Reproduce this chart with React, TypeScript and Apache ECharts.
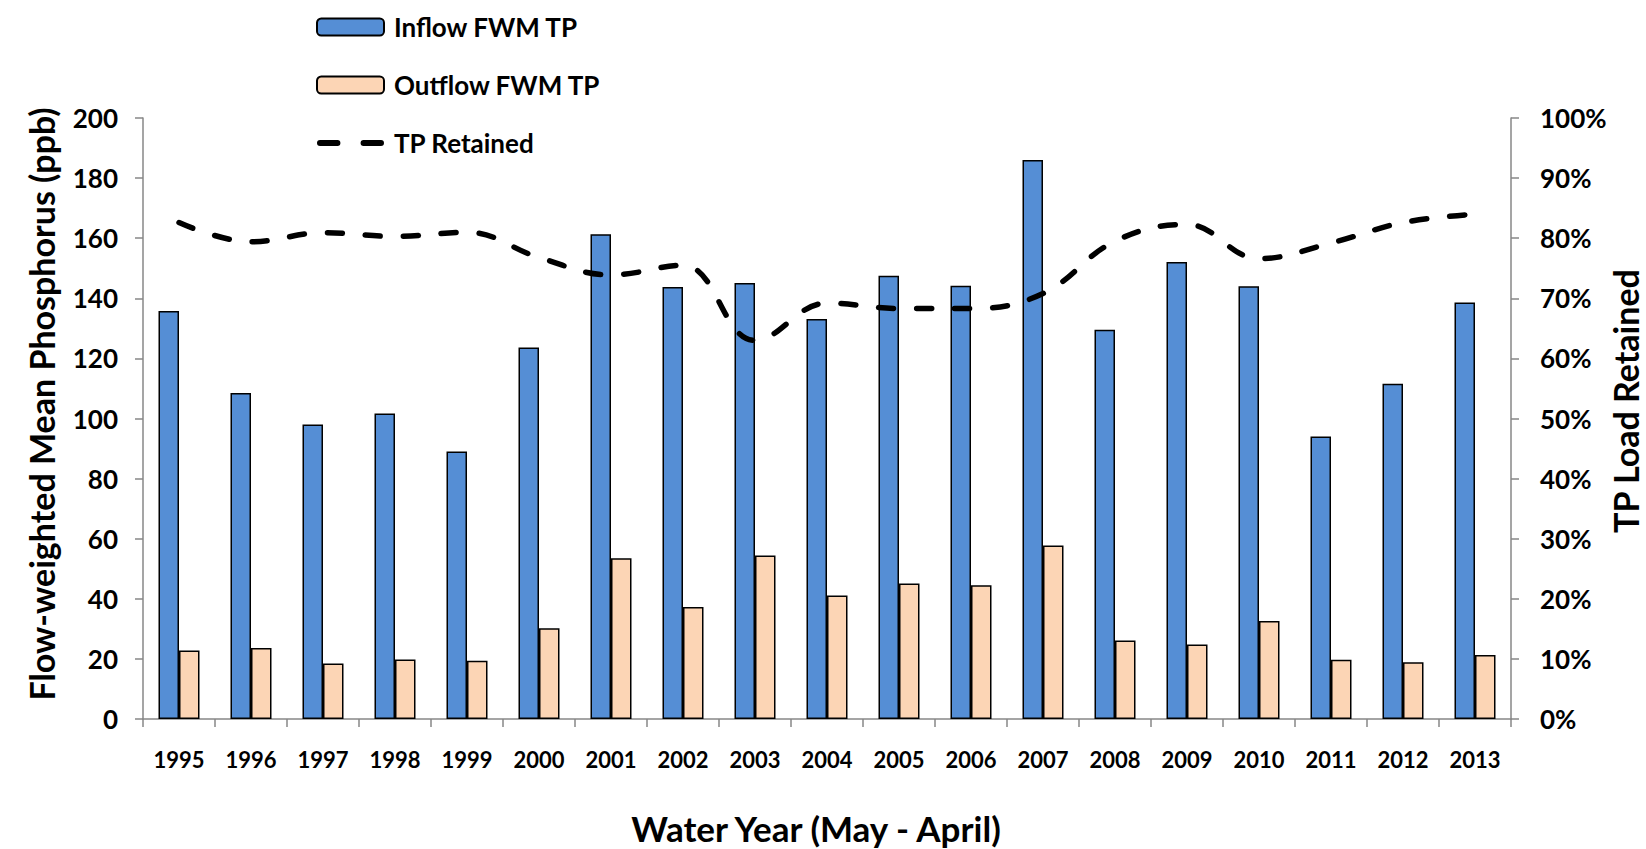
import React, { useEffect, useRef } from "react";
import * as echarts from "echarts";

const years = ["1995", "1996", "1997", "1998", "1999", "2000", "2001", "2002", "2003", "2004", "2005", "2006", "2007", "2008", "2009", "2010", "2011", "2012", "2013"];
const inflowFWM = [135.8, 108.5, 98.0, 101.7, 89.0, 123.6, 161.3, 143.8, 145.1, 133.1, 147.5, 144.2, 186.0, 129.5, 152.1, 144.0, 94.0, 111.6, 138.6];
const outflowFWM = [22.8, 23.6, 18.5, 19.8, 19.4, 30.2, 53.5, 37.3, 54.4, 41.1, 45.1, 44.5, 57.7, 26.1, 24.8, 32.6, 19.7, 18.9, 21.3];
const tpRetained = [82.6, 79.4, 80.9, 80.3, 81.0, 76.8, 73.9, 75.5, 63.0, 69.2, 68.3, 68.3, 70.8, 79.5, 82.3, 76.6, 79.2, 82.6, 84.0];

const FONT = "Lato, 'Open Sans', sans-serif";
const AXIS_GRAY = "#878787";
const DASH_ICON =
  "path://M3,0 h16 a2.75,2.75 0 0 1 0,5.5 h-16 a2.75,2.75 0 0 1 0,-5.5 z M43,0 h16 a2.75,2.75 0 0 1 0,5.5 h-16 a2.75,2.75 0 0 1 0,-5.5 z";

export default function App() {
  const ref = useRef<HTMLDivElement>(null);
  useEffect(() => {
    if (!ref.current) return;
    const chart = echarts.init(ref.current, null, { renderer: "svg" });
    const titleStyle = { fontFamily: FONT, fontWeight: "bold", fontSize: 34, fill: "#000" };
    const option = {
      animation: false,
      backgroundColor: "#ffffff",
      textStyle: { fontFamily: FONT, fontWeight: "bold", color: "#000" },
      legend: {
        orient: "vertical",
        left: 316,
        top: 14,
        padding: 0,
        itemWidth: 67,
        itemHeight: 17,
        itemGap: 32,
        textStyle: { fontFamily: FONT, fontWeight: "bold", fontSize: 26, color: "#000", padding: [0, 0, 0, 5] },
        data: [
          { name: "Inflow FWM TP" },
          { name: "Outflow FWM TP" },
          { name: "TP Retained", icon: DASH_ICON, itemStyle: { color: "#000", borderWidth: 0 } },
        ],
      },
      grid: { left: 143, right: 135, top: 118, bottom: 130, containLabel: false },
      graphic: [
        {
          type: "text",
          x: 41,
          y: 404,
          rotation: Math.PI / 2,
          style: { ...titleStyle, text: "Flow-weighted Mean Phosphorus (ppb)", textAlign: "center", textVerticalAlign: "middle" },
        },
        {
          type: "text",
          x: 1625,
          y: 401,
          rotation: Math.PI / 2,
          style: { ...titleStyle, text: "TP Load Retained", textAlign: "center", textVerticalAlign: "middle" },
        },
        {
          type: "text",
          x: 816,
          y: 828,
          style: { ...titleStyle, fontSize: 35, text: "Water Year (May - April)", textAlign: "center", textVerticalAlign: "middle" },
        },
      ],
      xAxis: {
        type: "category",
        data: years,
        axisLine: { show: true, lineStyle: { color: AXIS_GRAY, width: 1.5 } },
        axisTick: { show: true, length: 8, lineStyle: { color: AXIS_GRAY, width: 1.5 } },
        axisLabel: { fontFamily: FONT, fontWeight: "bold", fontSize: 22, color: "#000", margin: 29 },
      },
      yAxis: [
        {
          type: "value",
          min: 0,
          max: 200,
          interval: 20,
          axisLine: { show: true, lineStyle: { color: AXIS_GRAY, width: 1.5 } },
          axisTick: { show: true, length: 8, lineStyle: { color: AXIS_GRAY, width: 1.5 } },
          axisLabel: { fontFamily: FONT, fontWeight: "bold", fontSize: 26, color: "#000", margin: 25 },
          splitLine: { show: false },
        },
        {
          type: "value",
          min: 0,
          max: 100,
          interval: 10,
          position: "right",
          axisLine: { show: true, lineStyle: { color: AXIS_GRAY, width: 1.5 } },
          axisTick: { show: true, length: 8, lineStyle: { color: AXIS_GRAY, width: 1.5 } },
          axisLabel: { fontFamily: FONT, fontWeight: "bold", fontSize: 26, color: "#000", margin: 29, formatter: "{value}%" },
          splitLine: { show: false },
        },
      ],
      series: [
        {
          name: "Inflow FWM TP",
          type: "bar",
          data: inflowFWM,
          barWidth: 20.5,
          barGap: "0%",
          itemStyle: { color: "#558ED5", borderColor: "#000", borderWidth: 1.5 },
        },
        {
          name: "Outflow FWM TP",
          type: "bar",
          data: outflowFWM,
          barWidth: 20.5,
          barGap: "0%",
          itemStyle: { color: "#FCD5B5", borderColor: "#000", borderWidth: 1.5 },
        },
        {
          name: "TP Retained",
          type: "line",
          yAxisIndex: 1,
          data: tpRetained,
          smooth: 0.4,
          symbol: "none",
          lineStyle: { color: "#000", width: 5.5, type: [15, 23], cap: "round" },
          itemStyle: { color: "#000" },
        },
      ],
    };
    chart.setOption(option as any);
    return () => chart.dispose();
  }, []);
  return (
    <div
      ref={ref}
      style={{ position: "fixed", left: 0, top: 0, width: 1646, height: 849, background: "#fff" }}
    />
  );
}
